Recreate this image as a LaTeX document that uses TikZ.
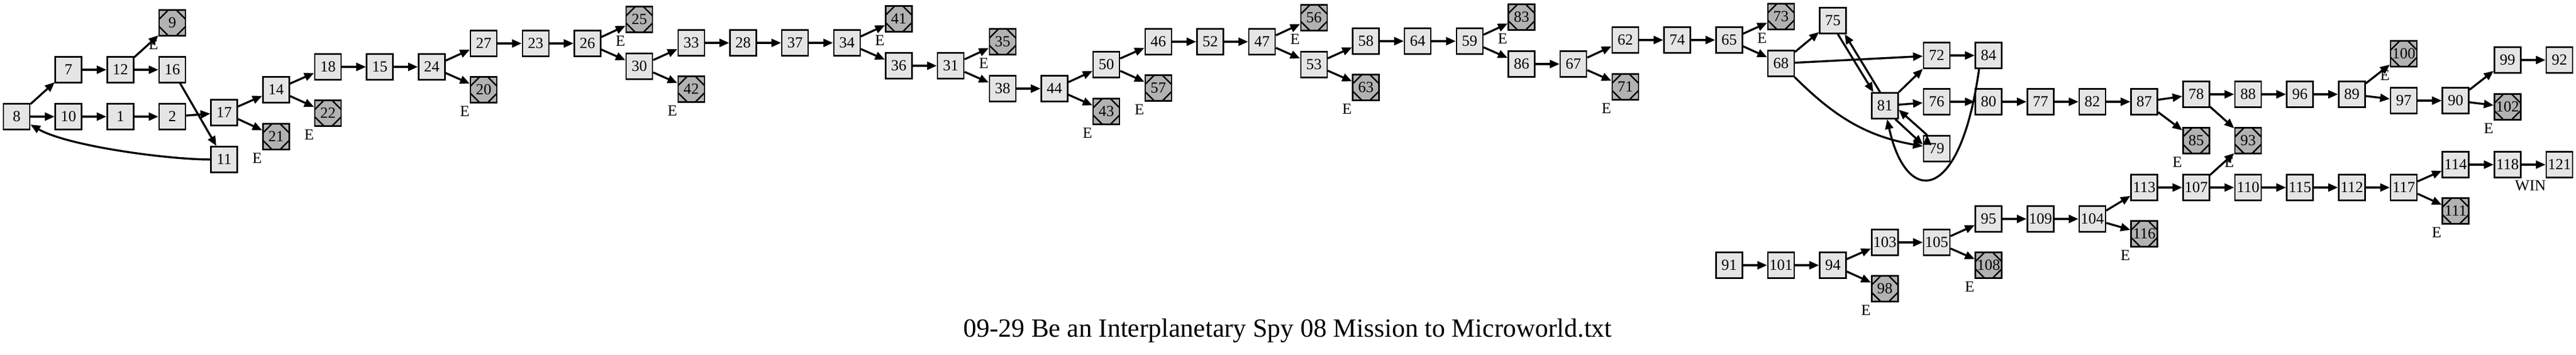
\documentclass[tikz,border=0pt]{standalone}
\usepackage{fontspec}
\setmainfont{Liberation Serif}
\usepackage{tikz}
\usetikzlibrary{arrows.meta}
\tikzset{every picture/.style={line width=3.5pt}}

\begin{document}
\begin{tikzpicture}[x=90.67pt, y=-1pt,
        room/.style={draw, line width=2.5pt, fill=gray!20, minimum width=46pt, minimum height=45pt, inner sep=0pt, font=\fontsize{27}{27}\selectfont},
        elabel/.style={xshift=-33pt, yshift=-38pt, inner sep=0pt, font=\fontsize{27}{27}\selectfont},
        death/.style={room, fill=black!30, label={[elabel]center:E}, path picture={
            \draw[line width=2.5pt]
                ([yshift=-16pt]path picture bounding box.north west) -- ([xshift=16pt]path picture bounding box.north west)
                ([xshift=-16pt]path picture bounding box.north east) -- ([yshift=-16pt]path picture bounding box.north east)
                ([yshift=16pt]path picture bounding box.south east) -- ([xshift=-16pt]path picture bounding box.south east)
                ([xshift=16pt]path picture bounding box.south west) -- ([yshift=16pt]path picture bounding box.south west);
        }},
        link/.style={-{Triangle[length=17pt,width=14pt]}, line width=3.5pt}]
        \useasboundingbox (-0.32,0) rectangle (49.32,620);

        \node[room] (p8) at (0,204) {8};
        \node[room] (p7) at (1,122) {7};
        \node[room] (p10) at (1,204) {10};
        \node[room] (p12) at (2,122) {12};
        \node[room] (p1) at (2,204) {1};
        \node[death] (p9) at (3,40) {9};
        \node[room] (p16) at (3,122) {16};
        \node[room] (p2) at (3,204) {2};
        \node[room] (p17) at (4,197) {17};
        \node[room] (p11) at (4,279) {11};
        \node[room] (p14) at (5,157) {14};
        \node[death] (p21) at (5,239) {21};
        \node[room] (p18) at (6,117) {18};
        \node[death] (p22) at (6,198) {22};
        \node[room] (p15) at (7,117) {15};
        \node[room] (p24) at (8,117) {24};
        \node[room] (p27) at (9,76) {27};
        \node[death] (p20) at (9,157) {20};
        \node[room] (p23) at (10,76) {23};
        \node[room] (p26) at (11,76) {26};
        \node[death] (p25) at (12,34) {25};
        \node[room] (p30) at (12,116) {30};
        \node[room] (p33) at (13,75) {33};
        \node[death] (p42) at (13,156) {42};
        \node[room] (p28) at (14,75) {28};
        \node[room] (p37) at (15,75) {37};
        \node[room] (p34) at (16,75) {34};
        \node[death] (p41) at (17,33) {41};
        \node[room] (p36) at (17,115) {36};
        \node[room] (p31) at (18,115) {31};
        \node[death] (p35) at (19,73) {35};
        \node[room] (p38) at (19,155) {38};
        \node[room] (p44) at (20,155) {44};
        \node[room] (p50) at (21,113) {50};
        \node[death] (p43) at (21,195) {43};
        \node[room] (p46) at (22,73) {46};
        \node[death] (p57) at (22,154) {57};
        \node[room] (p52) at (23,73) {52};
        \node[room] (p47) at (24,73) {47};
        \node[death] (p56) at (25,31) {56};
        \node[room] (p53) at (25,113) {53};
        \node[room] (p58) at (26,72) {58};
        \node[death] (p63) at (26,153) {63};
        \node[room] (p64) at (27,72) {64};
        \node[room] (p59) at (28,72) {59};
        \node[death] (p83) at (29,30) {83};
        \node[room] (p86) at (29,112) {86};
        \node[room] (p67) at (30,112) {67};
        \node[room] (p62) at (31,70) {62};
        \node[death] (p71) at (31,152) {71};
        \node[room] (p74) at (32,70) {74};
        \node[room] (p65) at (33,70) {65};
        \node[death] (p73) at (34,29) {73};
        \node[room] (p68) at (34,111) {68};
        \node[room] (p75) at (35,36) {75};
        \node[room] (p81) at (36,185) {81};
        \node[room] (p72) at (37,97) {72};
        \node[room] (p76) at (37,178) {76};
        \node[room] (p79) at (37,260) {79};
        \node[room] (p84) at (38,97) {84};
        \node[room] (p80) at (38,178) {80};
        \node[room] (p77) at (39,178) {77};
        \node[room] (p82) at (40,178) {82};
        \node[room] (p87) at (41,178) {87};
        \node[room] (p78) at (42,165) {78};
        \node[death] (p85) at (42,246) {85};
        \node[room] (p88) at (43,165) {88};
        \node[death] (p93) at (43,246) {93};
        \node[room] (p96) at (44,165) {96};
        \node[room] (p89) at (45,165) {89};
        \node[death] (p100) at (46,94) {100};
        \node[room] (p97) at (46,176) {97};
        \node[room] (p90) at (47,176) {90};
        \node[room] (p99) at (48,105) {99};
        \node[death] (p102) at (48,187) {102};
        \node[room] (p92) at (49,105) {92};

        \node[room] (p91) at (33,464) {91};
        \node[room] (p101) at (34,464) {101};
        \node[room] (p94) at (35,464) {94};
        \node[room] (p103) at (36,424) {103};
        \node[death] (p98) at (36,505) {98};
        \node[room] (p105) at (37,424) {105};
        \node[room] (p95) at (38,383) {95};
        \node[death] (p108) at (38,464) {108};
        \node[room] (p109) at (39,383) {109};
        \node[room] (p104) at (40,383) {104};
        \node[room] (p113) at (41,328) {113};
        \node[death] (p116) at (41,409) {116};
        \node[room] (p107) at (42,328) {107};
        \node[room] (p110) at (43,328) {110};
        \node[room] (p115) at (44,328) {115};
        \node[room] (p112) at (45,328) {112};
        \node[room] (p117) at (46,328) {117};
        \node[room] (p114) at (47,288) {114};
        \node[death] (p111) at (47,369) {111};
        \node[room, label={[xshift=40pt, yshift=-37pt, inner sep=0pt, font=\fontsize{27}{27}\selectfont]center:WIN}] (p118) at (48,288) {118};
        \node[room] (p121) at (49,288) {121};

        \node[font=\fontsize{46}{46}\selectfont] (title) at (24.495,578) {09-29 Be an Interplanetary Spy 08 Mission to Microworld.txt};

        \draw[link]
            (p8) edge (p7)
            (p8) edge (p10)
            (p7) edge (p12)
            (p12) edge (p9)
            (p12) edge (p16)
            (p10) edge (p1)
            (p1) edge (p2)
            (p2) edge (p17)
            (p16) edge (p11)
            (p11) edge[out=180, in=-30, looseness=0.6] (p8)
            (p17) edge (p14)
            (p17) edge (p21)
            (p14) edge (p18)
            (p14) edge (p22)
            (p18) edge (p15)
            (p15) edge (p24)
            (p24) edge (p27)
            (p24) edge (p20)
            (p27) edge (p23)
            (p23) edge (p26)
            (p26) edge (p25)
            (p26) edge (p30)
            (p30) edge (p33)
            (p30) edge (p42)
            (p33) edge (p28)
            (p28) edge (p37)
            (p37) edge (p34)
            (p34) edge (p41)
            (p34) edge (p36)
            (p36) edge (p31)
            (p31) edge (p35)
            (p31) edge (p38)
            (p38) edge (p44)
            (p44) edge (p50)
            (p44) edge (p43)
            (p50) edge (p46)
            (p50) edge (p57)
            (p46) edge (p52)
            (p52) edge (p47)
            (p47) edge (p56)
            (p47) edge (p53)
            (p53) edge (p58)
            (p53) edge (p63)
            (p58) edge (p64)
            (p64) edge (p59)
            (p59) edge (p83)
            (p59) edge (p86)
            (p86) edge (p67)
            (p67) edge (p62)
            (p67) edge (p71)
            (p62) edge (p74)
            (p74) edge (p65)
            (p65) edge (p73)
            (p65) edge (p68)
            (p68) edge (p75)
            (p68) edge (p72)
            (p68) edge[out=-45, in=170] (p79)
            (p75.-70) edge (p81.130)
            (p81.109) edge (p75.-49)
            (p81) edge (p72)
            (p81) edge (p76)
            (p81.-52) edge (p79.164)
            (p79.125) edge (p81.-16)
            (p72) edge (p84)
            (p76) edge (p80)
            (p80) edge (p77)
            (p77) edge (p82)
            (p82) edge (p87)
            (p87) edge (p78)
            (p87) edge (p85)
            (p78) edge (p88)
            (p78) edge (p93)
            (p88) edge (p96)
            (p96) edge (p89)
            (p89) edge (p100)
            (p89) edge (p97)
            (p97) edge (p90)
            (p90) edge (p99)
            (p90) edge (p102)
            (p99) edge (p92)
            (p91) edge (p101)
            (p101) edge (p94)
            (p94) edge (p103)
            (p94) edge (p98)
            (p103) edge (p105)
            (p105) edge (p95)
            (p105) edge (p108)
            (p95) edge (p109)
            (p109) edge (p104)
            (p104) edge (p113)
            (p104) edge (p116)
            (p113) edge (p107)
            (p107) edge (p93)
            (p107) edge (p110)
            (p110) edge (p115)
            (p115) edge (p112)
            (p112) edge (p117)
            (p117) edge (p114)
            (p117) edge (p111)
            (p114) edge (p118)
            (p118) edge (p121)
            ;
        \draw[link] (p84.-125) .. controls (37.45,360) and (36.41,360) .. (p81.-80);
    \end{tikzpicture}
\end{document}
